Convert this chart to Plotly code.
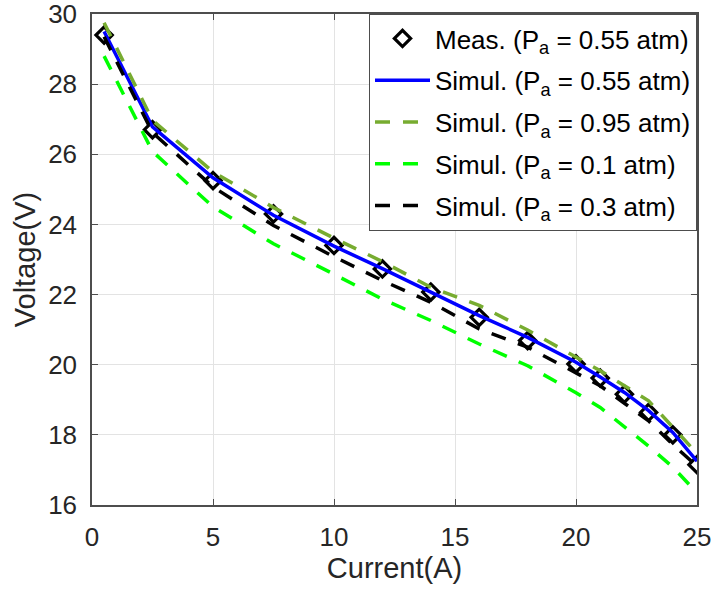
import plotly.graph_objects as go

current = [0.5, 2.5, 5, 7.5, 10, 12, 14, 16, 18, 20, 21, 22, 23, 24, 25]
meas_055 = [29.4, 26.7, 25.25, 24.3, 23.4, 22.73, 22.07, 21.35, 20.69, 20.02, 19.62, 19.16, 18.64, 18.0, 17.15]
sim_055 = [29.5, 26.78, 25.33, 24.26, 23.38, 22.74, 22.07, 21.4, 20.78, 20.07, 19.65, 19.21, 18.69, 18.07, 17.25]
sim_095 = [29.75, 26.97, 25.5, 24.48, 23.61, 22.94, 22.21, 21.69, 20.99, 20.21, 19.83, 19.4, 18.97, 18.22, 17.47]
sim_01 = [28.8, 26.08, 24.5, 23.45, 22.58, 21.87, 21.26, 20.59, 19.97, 19.2, 18.78, 18.22, 17.68, 17.08, 16.35]
sim_03 = [29.35, 26.62, 25.07, 23.97, 23.08, 22.4, 21.78, 21.02, 20.5, 19.78, 19.4, 18.9, 18.4, 17.73, 17.1]

x_ticks = [0, 5, 10, 15, 20, 25]
y_ticks = [16, 18, 20, 22, 24, 26, 28, 30]

FONT = "Liberation Sans, Arial, sans-serif"
DASH = "15px,13px"

fig = go.Figure()
fig.add_trace(go.Scatter(
    x=current, y=meas_055, mode="markers", name="Meas. (P<sub>a</sub> = 0.55 atm)",
    legendgroup="g1",
    marker=dict(symbol="diamond-open", size=12.5, color="black", line=dict(width=3.2, color="black")),
))
fig.add_trace(go.Scatter(
    x=current, y=sim_055, mode="lines", name="Simul. (P<sub>a</sub> = 0.55 atm)",
    legendgroup="g2",
    line=dict(color="#0000FF", width=3.5),
))
fig.add_trace(go.Scatter(
    x=current, y=sim_095, mode="lines", name="Simul. (P<sub>a</sub> = 0.95 atm)",
    legendgroup="g3",
    line=dict(color="#77AC30", width=3.5, dash=DASH),
))
fig.add_trace(go.Scatter(
    x=current, y=sim_01, mode="lines", name="Simul. (P<sub>a</sub> = 0.1 atm)",
    legendgroup="g4",
    line=dict(color="#00FF00", width=3.5, dash=DASH),
))
fig.add_trace(go.Scatter(
    x=current, y=sim_03, mode="lines", name="Simul. (P<sub>a</sub> = 0.3 atm)",
    legendgroup="g5",
    line=dict(color="#000000", width=3.5, dash=DASH),
))

axis_common = dict(
    showgrid=True, gridcolor="#E3E3E3", gridwidth=1,
    showline=True, linecolor="#4D4D4D", linewidth=1.5, mirror="ticks",
    ticks="inside", ticklen=6, tickcolor="#4D4D4D",
    tickfont=dict(family=FONT, size=26, color="#262626"),
    zeroline=False, automargin=False, ticklabeloverflow="allow",
)

fig.update_layout(
    width=714, height=590,
    margin=dict(l=92, r=17, t=14, b=85),
    paper_bgcolor="white", plot_bgcolor="white",
    font=dict(family=FONT, color="#262626"),
    xaxis=dict(range=[0, 25], tickvals=x_ticks, ticktext=[str(v) for v in x_ticks],
               ticklabelstandoff=8,
               title=dict(text="Current(A)", font=dict(family=FONT, size=29, color="#262626"), standoff=6),
               **axis_common),
    yaxis=dict(range=[16, 30], tickvals=y_ticks, ticktext=[str(v) for v in y_ticks],
               ticklabelstandoff=8,
               title=dict(text="Voltage(V)", font=dict(family=FONT, size=29, color="#262626"), standoff=4),
               **axis_common),
    legend=dict(
        x=1, y=1, xanchor="right", yanchor="top",
        bgcolor="white", bordercolor="#4D4D4D", borderwidth=1,
        font=dict(family=FONT, size=26, color="#000000"),
        itemwidth=55, traceorder="grouped", tracegroupgap=5,
    ),
    showlegend=True,
)

fig.write_html("out.html")
